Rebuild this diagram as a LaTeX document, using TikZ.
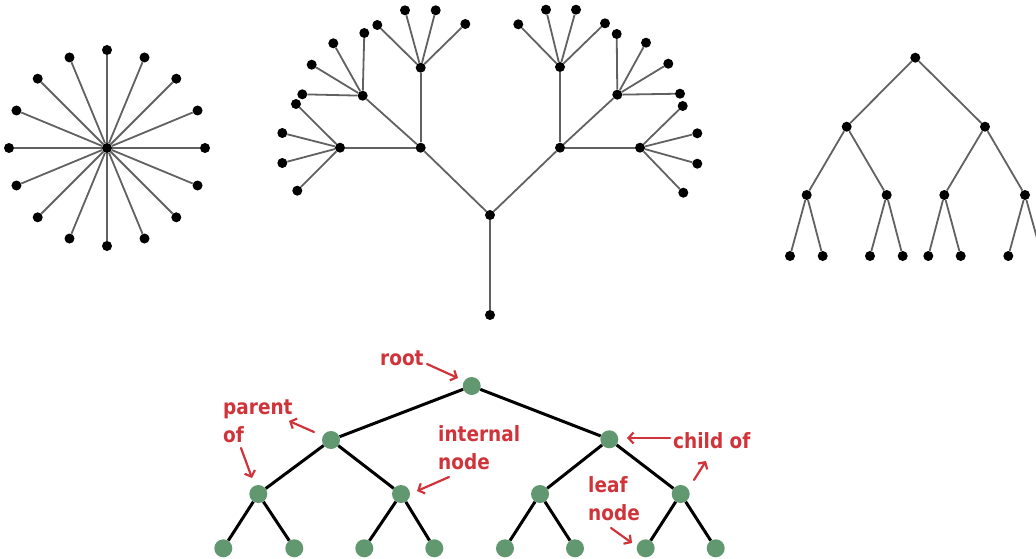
\documentclass[tikz,border=0pt]{standalone}
\usepackage{fontspec}
\setmainfont{DejaVu Sans}
\newfontfamily\lblfont{DejaVu Sans}[FakeStretch=0.88]
\usetikzlibrary{arrows.meta,calc}
\definecolor{treegreen}{RGB}{98,152,112}
\definecolor{labelred}{RGB}{208,52,58}
\begin{document}
\begin{tikzpicture}[x=1pt,y=-1pt,
  dot/.style={circle,fill=black,inner sep=0pt,minimum size=10pt},
  gedge/.style={draw=black!62,line width=1.8pt},
  gnode/.style={circle,fill=treegreen,inner sep=0pt,minimum size=18pt},
  bedge/.style={draw=black,line width=3pt},
  lbl/.style={text=labelred,font=\lblfont\bfseries\fontsize{21}{28}\selectfont,align=left,inner sep=0pt},
  arr/.style={draw=labelred,line width=2.2pt,line cap=round,-{Straight Barb[length=5pt,width=11pt]}}
]
\useasboundingbox (0,0) rectangle (1036,559);
\clip (0,0) rectangle (1036,559);

% ---------- star ----------
\node[dot] (s) at (107,148) {};
\foreach \k in {0,...,15}{
  \node[dot] (s\k) at ($(s)+(\k*22.5:98)$) {};
  \draw[gedge] (s) -- (s\k);
}

% ---------- middle tree ----------
\node[dot] (m0) at (490,315) {};
\node[dot] (m1) at (490,215) {};
\node[dot] (L1) at (420.7,147.7) {};
\node[dot] (R1) at (560,147.7) {};
\node[dot] (LA) at (420.7,67.7) {};
\node[dot] (LB) at (362.7,95.7) {};
\node[dot] (LC) at (340,147.7) {};
\node[dot] (RA) at (560,67) {};
\node[dot] (RB) at (617.3,94.7) {};
\node[dot] (RC) at (640,147.7) {};
\draw[gedge] (m0) -- (m1);
\draw[gedge] (m1) -- (L1);
\draw[gedge] (m1) -- (R1);
\draw[gedge] (L1) -- (LA);
\draw[gedge] (L1) -- (LB);
\draw[gedge] (L1) -- (LC);
\draw[gedge] (R1) -- (RA);
\draw[gedge] (R1) -- (RB);
\draw[gedge] (R1) -- (RC);
\foreach \p [count=\i] in {(377.3,25),(405,10.3),(435.7,10.3),(465.3,24)}{
  \node[dot] (LA\i) at \p {}; \draw[gedge] (LA) -- (LA\i);}
\foreach \p [count=\i] in {(302.3,94.3),(311.7,64.7),(333.3,43.3),(364.3,33)}{
  \node[dot] (LB\i) at \p {}; \draw[gedge] (LB) -- (LB\i);}
\foreach \p [count=\i] in {(296,104),(282.3,133),(282.3,163),(297.3,190.7)}{
  \node[dot] (LC\i) at \p {}; \draw[gedge] (LC) -- (LC\i);}
\foreach \p [count=\i] in {(518.3,24.3),(546,9.7),(576,9.7),(605,23.3)}{
  \node[dot] (RA\i) at \p {}; \draw[gedge] (RA) -- (RA\i);}
\foreach \p [count=\i] in {(616.7,34),(646,42.7),(668.3,63.7),(680,93.7)}{
  \node[dot] (RB\i) at \p {}; \draw[gedge] (RB) -- (RB\i);}
\foreach \p [count=\i] in {(682.7,106),(697.3,133.3),(697.3,163.7),(683.3,192.7)}{
  \node[dot] (RC\i) at \p {}; \draw[gedge] (RC) -- (RC\i);}

% ---------- binary tree (right) ----------
\node[dot] (b0) at (915.3,57.7) {};
\node[dot] (b1) at (846.7,126.7) {};
\node[dot] (b2) at (985,126.7) {};
\node[dot] (b3) at (806.7,195) {};
\node[dot] (b4) at (886.7,195) {};
\node[dot] (b5) at (944.3,195) {};
\node[dot] (b6) at (1025,195) {};
\node[dot] (b7) at (790,256) {};
\node[dot] (b8) at (822.7,256) {};
\node[dot] (b9) at (870,256) {};
\node[dot] (b10) at (902.7,256) {};
\node[dot] (b11) at (928.3,256) {};
\node[dot] (b12) at (960.7,256) {};
\node[dot] (b13) at (1008.3,256) {};
\node[dot] (b14) at (1042,256) {};
\draw[gedge] (b0) -- (b1);
\draw[gedge] (b0) -- (b2);
\draw[gedge] (b1) -- (b3);
\draw[gedge] (b1) -- (b4);
\draw[gedge] (b2) -- (b5);
\draw[gedge] (b2) -- (b6);
\draw[gedge] (b3) -- (b7);
\draw[gedge] (b3) -- (b8);
\draw[gedge] (b4) -- (b9);
\draw[gedge] (b4) -- (b10);
\draw[gedge] (b5) -- (b11);
\draw[gedge] (b5) -- (b12);
\draw[gedge] (b6) -- (b13);
\draw[gedge] (b6) -- (b14);

% ---------- bottom labelled tree ----------
\node[gnode] (t0) at (471.7,386) {};
\node[gnode] (t1) at (331,440) {};
\node[gnode] (t2) at (609.3,439.3) {};
\node[gnode] (t3) at (258.3,494) {};
\node[gnode] (t4) at (401,494) {};
\node[gnode] (t5) at (540,494) {};
\node[gnode] (t6) at (680.7,494) {};
\node[gnode] (t7) at (223.3,548.3) {};
\node[gnode] (t8) at (294.3,548.3) {};
\node[gnode] (t9) at (364.3,548.3) {};
\node[gnode] (t10) at (434.3,548.3) {};
\node[gnode] (t11) at (505,548.3) {};
\node[gnode] (t12) at (575,548.3) {};
\node[gnode] (t13) at (645.7,548.3) {};
\node[gnode] (t14) at (715.7,548.3) {};
\draw[bedge] (t0) -- (t1);
\draw[bedge] (t0) -- (t2);
\draw[bedge] (t1) -- (t3);
\draw[bedge] (t1) -- (t4);
\draw[bedge] (t2) -- (t5);
\draw[bedge] (t2) -- (t6);
\draw[bedge] (t3) -- (t7);
\draw[bedge] (t3) -- (t8);
\draw[bedge] (t4) -- (t9);
\draw[bedge] (t4) -- (t10);
\draw[bedge] (t5) -- (t11);
\draw[bedge] (t5) -- (t12);
\draw[bedge] (t6) -- (t13);
\draw[bedge] (t6) -- (t14);

% ---------- labels ----------
\node[lbl,anchor=base west] (lroot) at (380,365) {root};
\node[lbl,anchor=base west] (lparent) at (223,442) {parent\\of};
\node[lbl,anchor=base west] (linternal) at (438,469) {internal\\node};
\node[lbl,anchor=base west] (lchild) at (673,448) {child of};
\node[lbl,anchor=base west] (lleaf) at (588,520) {leaf\\node};

\coordinate (aRootS) at (427,364);   \coordinate (aRootE) at (458,378);
\coordinate (aParS) at (314,432);    \coordinate (aParE) at (289,421);
\coordinate (aOfS) at (241,448);     \coordinate (aOfE) at (252,478);
\coordinate (aIntS) at (449,477);    \coordinate (aIntE) at (417,491);
\coordinate (aChS) at (670,438);     \coordinate (aChE) at (627,438);
\coordinate (aCh2S) at (694,480);    \coordinate (aCh2E) at (706,461);
\coordinate (aLeafS) at (611,528);   \coordinate (aLeafE) at (632,543);
\draw[arr] (aRootS) -- (aRootE);
\draw[arr] (aParS) -- (aParE);
\draw[arr] (aOfS) -- (aOfE);
\draw[arr] (aIntS) -- (aIntE);
\draw[arr] (aChS) -- (aChE);
\draw[arr] (aCh2S) -- (aCh2E);
\draw[arr] (aLeafS) -- (aLeafE);
\end{tikzpicture}
\end{document}
